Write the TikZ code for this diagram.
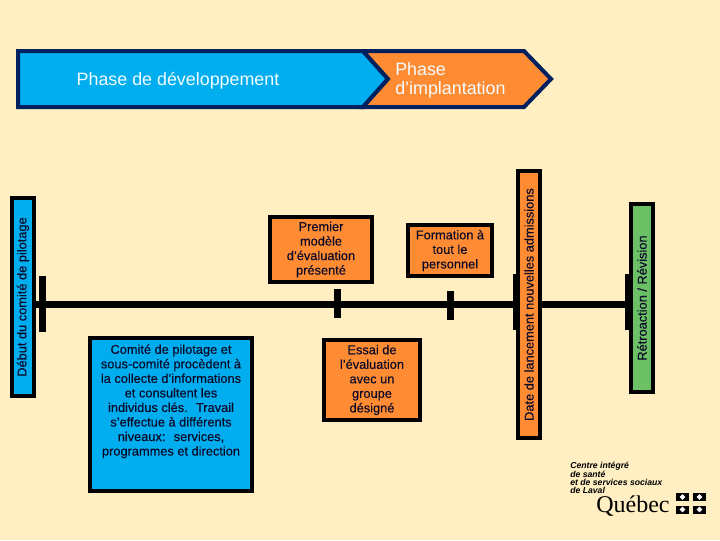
\documentclass[tikz,border=0pt]{standalone}
\usepackage{fontspec}
\setmainfont{Liberation Sans}
\newfontfamily\boitefont[FakeBold=0.25]{Liberation Sans}
\newfontfamily\logofont{Liberation Serif}
\usepackage{tikz}
\definecolor{fond}{RGB}{255,239,194}
\definecolor{bleu}{RGB}{0,173,239}
\definecolor{orange}{RGB}{255,140,51}
\definecolor{vert}{RGB}{108,192,102}
\definecolor{marine}{RGB}{0,32,96}
\definecolor{encre}{RGB}{10,10,40}
\tikzset{
  bandeau/.style={draw=marine,line width=3pt,miter limit=10},
  titre/.style={text=white!95!bleu,font=\fontsize{13.4}{14.25}\selectfont,align=left},
  boite/.style={draw=black,line width=3pt,text=encre,align=center,inner sep=0pt,
    font=\boitefont\fontsize{9.6}{10.9}\selectfont},
  jalon/.style={boite,rotate=90,minimum height=16.5pt},
  tige/.style={fill=black,inner sep=0pt,minimum width=5.25pt},
  ligne/.style={line width=5.25pt},
  logo/.style={anchor=west,inner sep=0pt,font=\fontsize{6.5}{6.5}\selectfont\bfseries\itshape},
  drapeau/.style={fill=black,inner sep=0pt,minimum width=9.75pt,minimum height=6pt},
}
\begin{document}
\begin{tikzpicture}[x=0.75pt,y=-0.75pt]
  \useasboundingbox (0,0) rectangle (720,540);
  \fill[fond] (0,0) rectangle (720,540);
  % bandeau
  \draw[bandeau,fill=bleu] (18,51) -- (363,51) -- (388,79) -- (363,107) -- (18,107) -- cycle;
  \draw[bandeau,fill=orange] (363,51) -- (524,51) -- (551,79) -- (524,107) -- (363,107) -- (388,79) -- cycle;
  \node[titre] (dev) at (178,81) {Phase de développement};
  \node[titre,anchor=west,inner sep=0pt] (impl) at (395,80) {Phase\\d’implantation};
  % ligne du temps
  \coordinate (tdebut) at (23,304);
  \coordinate (tretro) at (642,304);
  \draw[ligne] (tdebut) -- (tretro);
  \node[tige,minimum height=42pt] (t1) at (42.5,304) {};
  \node[tige,minimum height=21.75pt] (t2) at (337.5,303.5) {};
  \node[tige,minimum height=21.75pt] (t3) at (450.5,305.5) {};
  \node[tige,minimum height=42pt] (t4) at (516.5,302) {};
  \node[tige,minimum height=42pt] (t5) at (628.5,302) {};
  % boites
  \node[jalon,fill=bleu,minimum width=148.5pt] (debut) at (23,297) {Début du comité de pilotage};
  \node[jalon,fill=orange,minimum width=200.25pt] (date) at (529,304.5) {Date de lancement nouvelles admissions};
  \node[jalon,fill=vert,minimum width=141pt] (retro) at (642,298) {Rétroaction / Révision};
  \node[boite,fill=orange,minimum width=76.5pt,minimum height=48.75pt] (modele) at (321,249.5)
    {Premier\\modèle\\d’évaluation\\présenté};
  \node[boite,fill=orange,minimum width=63pt,minimum height=38.25pt] (formation) at (450,250.5)
    {Formation à\\tout le\\personnel};
  \node[boite,fill=orange,minimum width=72pt,minimum height=60pt] (essai) at (372,380)
    {Essai de\\l’évaluation\\avec un\\groupe\\désigné};
  \node[boite,fill=bleu,minimum width=121.5pt,minimum height=114.75pt] (comite) at (171,414.5)
    {Comité de pilotage et\\sous-comité procèdent à\\la collecte d’informations\\et consultent les\\individus clés.~ Travail\\s’effectue à différents\\niveaux:~ services,\\programmes et direction\\~\\~};
  % logo
  \node[logo] (l1) at (570,466) {Centre intégré};
  \node[logo] (l2) at (570,474) {de santé};
  \node[logo] (l3) at (570,482) {et de services sociaux};
  \node[logo] (l4) at (570,490) {de Laval};
  \node[anchor=west,inner sep=0pt,font=\logofont\fontsize{18}{18}\selectfont] (quebec) at (596,506) {Québec};
  \node[drapeau] (d1) at (682.5,497) {};
  \node[drapeau] (d2) at (699.5,497) {};
  \node[drapeau] (d3) at (682.5,509.5) {};
  \node[drapeau] (d4) at (699.5,509.5) {};
  \foreach \d in {d1,d2,d3,d4}
    \fill[white] ([xshift=-2.2pt]\d.center) -- ([yshift=2.2pt]\d.center) -- ([xshift=2.2pt]\d.center) -- ([yshift=-2.2pt]\d.center) -- cycle;
\end{tikzpicture}
\end{document}
